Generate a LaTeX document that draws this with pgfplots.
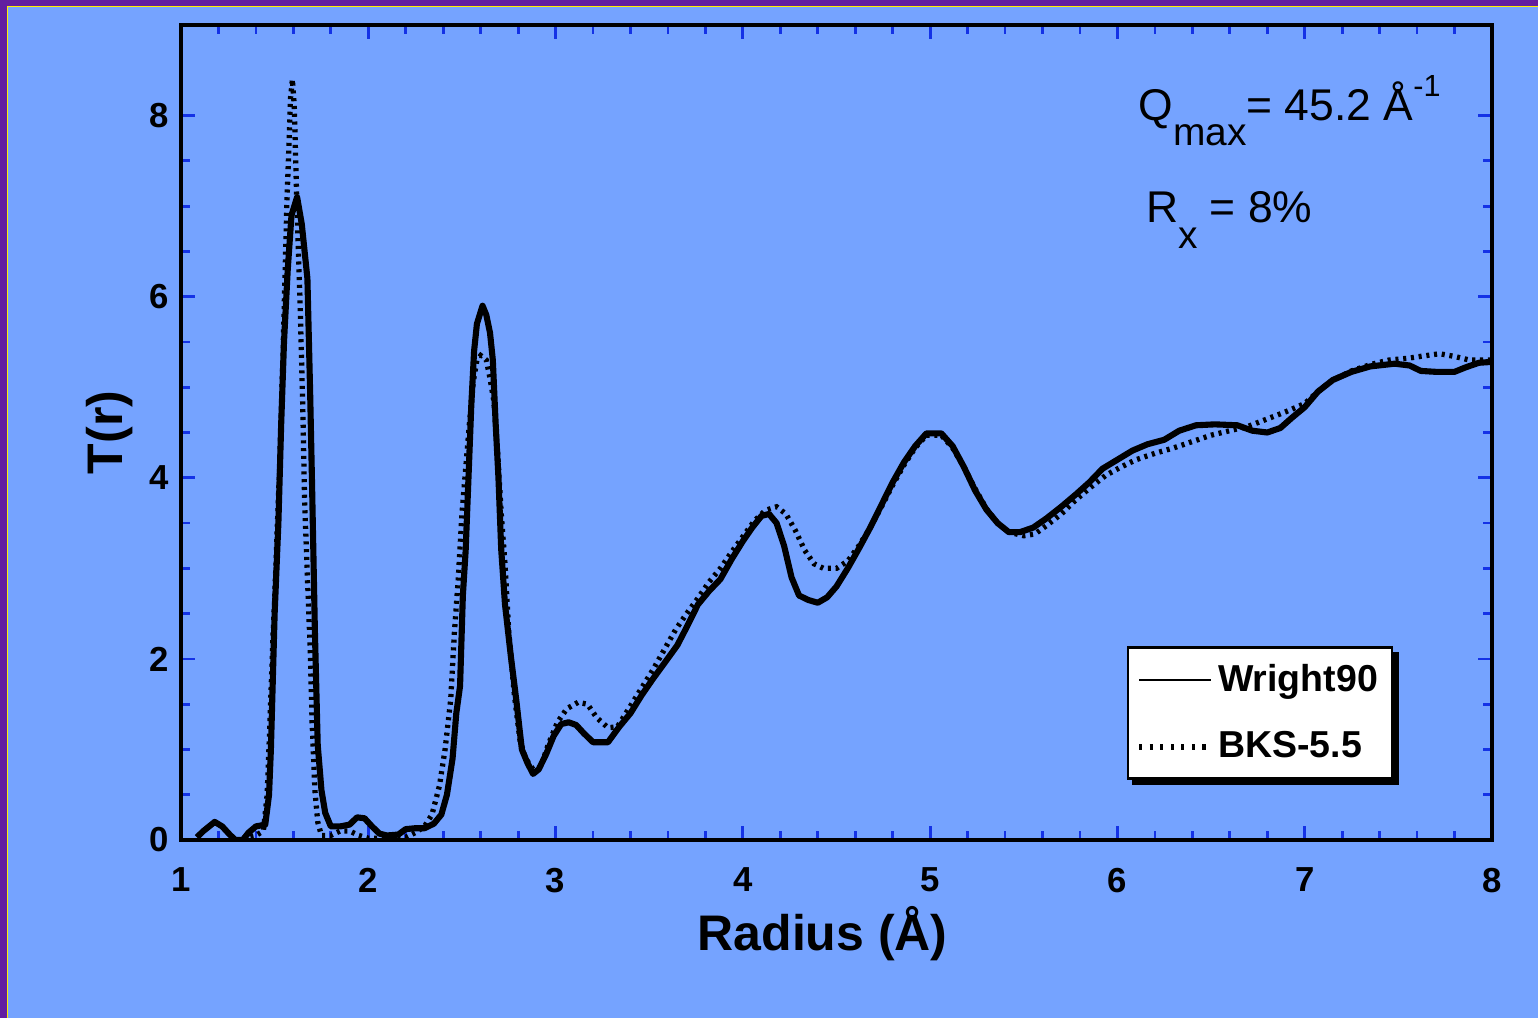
\documentclass[border=0pt]{standalone}
\usepackage{pgfplots}
\pgfplotsset{compat=1.18}
\usepackage{fontspec}
\setmainfont{Liberation Sans}
\usetikzlibrary{backgrounds}
\definecolor{bgblue}{RGB}{117,163,255}
\definecolor{tickblue}{RGB}{20,50,230}
\definecolor{frpurple}{RGB}{98,30,160}
\definecolor{fryellow}{RGB}{255,240,0}
\begin{document}
\begin{tikzpicture}[x=1pt,y=1pt]
\begin{axis}[
  at={(0pt,0pt)}, anchor=south west,
  scale only axis, width=471.96pt, height=293.4pt,
  xmin=1, xmax=8, ymin=0, ymax=9,
  xtick={1,2,...,8}, ytick={0,2,4,6,8},
  minor x tick num=4, minor y tick num=3,
  tick align=inside, tick pos=both,
  major tick length=5pt, minor tick length=3.2pt,
  every tick/.style={tickblue, line width=1pt},
  axis line style={black, line width=1.1pt},
  /pgf/number format/assume math mode=true,
  ticklabel style={font=\fontsize{12.5}{14}\selectfont\bfseries},
  xticklabel style={yshift=-6.5pt},
  yticklabel style={xshift=-1pt},
  xlabel={Radius (Å)},
  ylabel={T(r)},
  xlabel style={font=\fontsize{18}{20}\selectfont\bfseries, yshift=1.7pt, xshift=-5pt},
  ylabel style={font=\fontsize{18}{20}\selectfont\bfseries, yshift=-1pt},
  clip=true,
  legend cell align=left,
  legend style={name=leg, at={(axis cs:6.05,2.14)}, anchor=north west,
    draw=black, line width=0.9pt, fill=white,
    font=\fontsize{13.5}{15}\selectfont\bfseries,
    row sep=9pt, inner xsep=3pt, inner ysep=4pt},
]
\addplot[black, line width=2.2pt, line join=round,
  legend image code/.code={\draw[black, line width=0.9pt] (0pt,0pt) -- (26pt,0pt);}] coordinates {
(1.085,0.03) (1.12,0.1) (1.18,0.2) (1.22,0.15) (1.26,0.06) (1.29,0.0) (1.33,0.0) (1.36,0.08) (1.40,0.15) (1.45,0.17) (1.47,0.5) (1.48,1.0) (1.50,2.5) (1.52,3.5) (1.535,4.6) (1.55,5.5) (1.57,6.3) (1.59,6.9) (1.62,7.1) (1.645,6.8) (1.66,6.5) (1.675,6.2) (1.69,4.9) (1.70,3.9) (1.715,2.3) (1.73,1.05) (1.75,0.55) (1.77,0.3) (1.80,0.15) (1.85,0.15) (1.90,0.17) (1.94,0.25) (1.98,0.24) (2.02,0.15) (2.06,0.07) (2.10,0.05) (2.16,0.06) (2.20,0.12) (2.25,0.13) (2.30,0.13) (2.35,0.18) (2.39,0.28) (2.42,0.5) (2.45,0.9) (2.47,1.4) (2.49,1.7) (2.505,2.7) (2.52,3.2) (2.535,4.0) (2.55,4.8) (2.565,5.4) (2.58,5.7) (2.61,5.9) (2.63,5.8) (2.65,5.6) (2.665,5.3) (2.68,4.6) (2.695,4.0) (2.71,3.2) (2.73,2.6) (2.76,2.05) (2.79,1.55) (2.82,1.0) (2.85,0.85) (2.88,0.73) (2.91,0.78) (2.95,0.95) (2.99,1.15) (3.03,1.28) (3.07,1.3) (3.11,1.27) (3.15,1.18) (3.20,1.08) (3.28,1.08) (3.34,1.25) (3.40,1.4) (3.46,1.6) (3.52,1.78) (3.58,1.95) (3.65,2.15) (3.70,2.35) (3.76,2.6) (3.82,2.75) (3.88,2.88) (3.94,3.1) (4.00,3.3) (4.05,3.45) (4.10,3.58) (4.14,3.6) (4.18,3.5) (4.22,3.25) (4.26,2.9) (4.30,2.7) (4.35,2.65) (4.40,2.62) (4.45,2.68) (4.50,2.8) (4.56,3.0) (4.62,3.22) (4.68,3.45) (4.74,3.7) (4.80,3.95) (4.86,4.17) (4.92,4.35) (4.98,4.49) (5.06,4.49) (5.12,4.35) (5.18,4.12) (5.24,3.86) (5.30,3.65) (5.36,3.5) (5.42,3.4) (5.48,3.4) (5.55,3.45) (5.62,3.55) (5.70,3.68) (5.78,3.82) (5.85,3.95) (5.92,4.1) (6.00,4.2) (6.08,4.3) (6.16,4.37) (6.25,4.42) (6.33,4.52) (6.42,4.58) (6.52,4.59) (6.64,4.58) (6.72,4.52) (6.80,4.5) (6.87,4.55) (6.93,4.66) (7.00,4.78) (7.07,4.95) (7.15,5.08) (7.25,5.17) (7.35,5.23) (7.48,5.26) (7.56,5.24) (7.62,5.18) (7.70,5.17) (7.80,5.17) (7.86,5.22) (7.93,5.27) (8.0,5.28)
};
\addlegendentry{Wright90}
\addplot[black, line width=1.9pt, dash pattern=on 1.1pt off 1.7pt,
  legend image code/.code={\draw[black, line width=2pt, dash pattern=on 1.1pt off 2.7pt] (0pt,0pt) -- (25pt,0pt);}] coordinates {
(1.33,0.02) (1.40,0.05) (1.44,0.1) (1.46,0.5) (1.475,1.3) (1.49,2.2) (1.50,2.65) (1.515,3.5) (1.53,4.3) (1.545,5.4) (1.555,6.2) (1.565,7.0) (1.575,7.6) (1.585,8.2) (1.595,8.4) (1.605,8.1) (1.615,7.3) (1.625,6.6) (1.635,6.0) (1.65,4.8) (1.66,3.75) (1.675,2.9) (1.69,2.1) (1.70,1.3) (1.715,0.55) (1.73,0.2) (1.75,0.05) (1.80,0.05) (1.85,0.1) (1.90,0.1) (1.95,0.05) (2.0,0.02) (2.1,0.02) (2.2,0.03) (2.25,0.08) (2.30,0.15) (2.34,0.28) (2.38,0.6) (2.41,1.0) (2.44,1.55) (2.46,2.3) (2.48,2.87) (2.50,3.6) (2.52,4.1) (2.54,4.6) (2.56,5.05) (2.58,5.3) (2.60,5.35) (2.63,5.3) (2.65,5.1) (2.67,4.85) (2.69,4.3) (2.71,3.6) (2.73,3.05) (2.75,2.3) (2.78,1.6) (2.81,1.1) (2.84,0.9) (2.88,0.78) (2.92,0.8) (2.96,1.05) (3.01,1.3) (3.06,1.45) (3.12,1.52) (3.17,1.5) (3.22,1.35) (3.28,1.24) (3.33,1.25) (3.40,1.48) (3.46,1.68) (3.52,1.88) (3.58,2.1) (3.64,2.32) (3.70,2.5) (3.76,2.67) (3.82,2.85) (3.88,3.0) (3.94,3.18) (4.00,3.35) (4.06,3.52) (4.12,3.64) (4.18,3.68) (4.23,3.6) (4.28,3.42) (4.33,3.2) (4.38,3.05) (4.43,3.0) (4.50,3.0) (4.56,3.08) (4.62,3.25) (4.68,3.45) (4.74,3.68) (4.80,3.92) (4.86,4.14) (4.92,4.33) (4.98,4.47) (5.06,4.47) (5.12,4.33) (5.18,4.12) (5.24,3.88) (5.30,3.66) (5.36,3.5) (5.42,3.4) (5.50,3.36) (5.56,3.38) (5.62,3.47) (5.70,3.6) (5.78,3.76) (5.86,3.9) (5.94,4.03) (6.02,4.12) (6.10,4.2) (6.20,4.27) (6.30,4.33) (6.40,4.4) (6.50,4.47) (6.60,4.52) (6.70,4.57) (6.80,4.65) (6.90,4.73) (7.00,4.82) (7.08,4.97) (7.15,5.08) (7.25,5.18) (7.35,5.25) (7.45,5.3) (7.55,5.32) (7.65,5.35) (7.72,5.37) (7.80,5.34) (7.88,5.3) (7.95,5.3) (8.0,5.3)
};
\addlegendentry{BKS-5.5}
\node[anchor=base west, inner sep=0pt, font=\fontsize{16}{18}\selectfont] at (axis cs:6.11,7.95)
  {Q\raisebox{-1.1ex}{\fontsize{14}{16}\selectfont max}= 45.2 Å\raisebox{1.0ex}{\fontsize{11}{12}\selectfont -1}};
\node[anchor=base west, inner sep=0pt, font=\fontsize{16}{18}\selectfont] at (axis cs:6.15,6.82)
  {R\raisebox{-1.1ex}{\fontsize{14}{16}\selectfont x} = 8\%};
\end{axis}
\begin{pgfonlayer}{background}
% background (1px = 0.36pt); axis box at (0,0)-(471.96,293.4)
\fill[frpurple] (-65.16,-64.08) rectangle (488.52,302.4);
\fill[fryellow] (-62.64,-64.08) rectangle (488.52,300.24);
\fill[bgblue] (-62.28,-64.08) rectangle (488.52,299.88);
\fill[black] ([xshift=2pt,yshift=-2pt]leg.south west) rectangle ([xshift=2pt,yshift=-2pt]leg.north east);
\end{pgfonlayer}
\end{tikzpicture}
\end{document}
